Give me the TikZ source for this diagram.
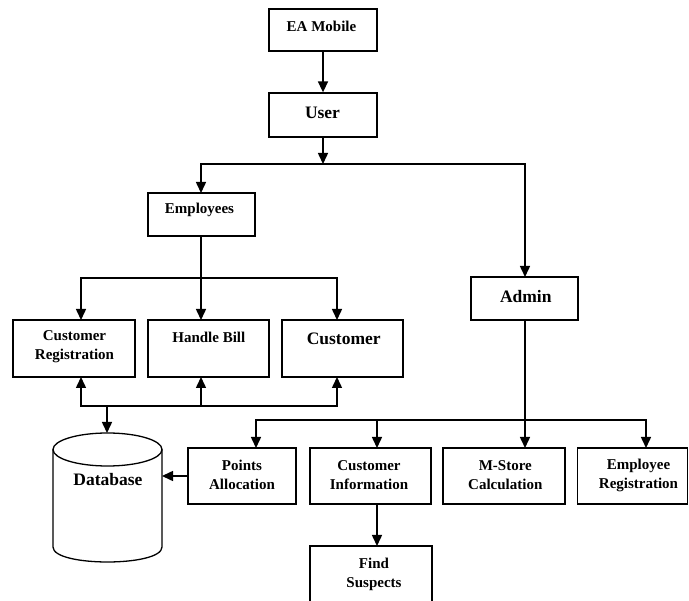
\documentclass[tikz,border=0pt]{standalone}
\usepackage{fontspec}
\setmainfont{Liberation Serif}
\usetikzlibrary{arrows.meta}
\begin{document}
\begin{tikzpicture}[x=1pt,y=-1pt,
  box/.style={draw,line width=1.3pt,inner sep=0pt},
  sm/.style={font=\bfseries\fontsize{15}{19}\selectfont,align=center,inner sep=0pt},
  lg/.style={font=\bfseries\fontsize{17.5}{20}\selectfont,align=center,inner sep=0pt},
  conn/.style={line width=1.5pt},
  arr/.style={conn,-{Triangle[width=10pt,length=11pt]}}]
\useasboundingbox (0,0) rectangle (689,601);
\clip (0,0) rectangle (689,601);
% boxes
\node[box,minimum width=108pt,minimum height=42pt] (ea) at (323,30) {};
\node[box,minimum width=108pt,minimum height=44pt] (user) at (323,115) {};
\node[box,minimum width=107pt,minimum height=43pt] (emp) at (201.5,214.5) {};
\node[box,minimum width=122pt,minimum height=57pt] (cr) at (74,348.5) {};
\node[box,minimum width=121pt,minimum height=57pt] (hb) at (208.5,348.5) {};
\node[box,minimum width=121pt,minimum height=57pt] (cu) at (342.5,348.5) {};
\node[box,minimum width=107pt,minimum height=43pt] (admin) at (524.5,298.5) {};
\node[box,minimum width=108pt,minimum height=56pt] (pa) at (242,476) {};
\node[box,minimum width=121pt,minimum height=56pt] (ci) at (370.5,476) {};
\node[box,minimum width=122pt,minimum height=56pt] (ms) at (504,476) {};
\node[box,minimum width=110pt,minimum height=56pt] (er) at (632.5,476) {};
\node[box,minimum width=122pt,minimum height=70pt] (fs) at (371,581) {};
% texts
\node[sm,anchor=base] (eat) at (321.5,31.5) {EA Mobile};
\node[lg,anchor=base] (usert) at (322.5,119) {User};
\node[sm,anchor=base] (empt) at (199.5,213.5) {Employees};
\node[sm] (crt) at (74.5,347) {Customer\\Registration};
\node[sm,anchor=base] (hbt) at (208.8,343) {Handle Bill};
\node[lg,anchor=base] (cut) at (343.7,345) {Customer};
\node[lg,anchor=base] (admint) at (525.8,303) {Admin};
\node[sm] (pat) at (242,475) {Points\\Allocation};
\node[sm] (cit) at (369,475) {Customer\\Information};
\node[sm] (mst) at (505.3,475) {M-Store\\Calculation};
\node[sm] (ert) at (638.5,475) {Employee\\Registration};
\node[sm] (fst) at (374,574) {Find\\Suspects};
% database cylinder
\draw[line width=1.3pt] (53,449.5) -- (53,547) .. controls (53,567) and (162,567) .. (162,547) -- (162,449.5);
\draw[line width=1.3pt] (107.5,449.5) ellipse [x radius=54.5pt,y radius=16.5pt];
\node[lg,anchor=base] (db) at (108,486) {Database};
\coordinate (dbtop) at (107,433);
\coordinate (dbright) at (162,476);
% junction coordinates
\coordinate (j1) at (323,164);
\coordinate (eT) at (201,193);
\coordinate (aT) at (525,277);
\coordinate (eB) at (201,236);
\coordinate (hbT) at (201,320);
\coordinate (b1) at (201,278);
\coordinate (crT) at (81,320);
\coordinate (cuT) at (337,320);
\coordinate (bb) at (107,406);
\coordinate (crB) at (81,377);
\coordinate (hbB) at (201,377);
\coordinate (cuB) at (337,377);
\coordinate (aB) at (525,320);
\coordinate (msT) at (525,448);
\coordinate (ab) at (525,420);
\coordinate (paT) at (256,448);
\coordinate (ciT) at (377,448);
\coordinate (erT) at (646,448);
\coordinate (ciB) at (377,504);
\coordinate (fsT) at (377,546);
% connectors
\draw[arr] (ea.south) -- (user.north);
\draw[arr] (user.south) -- (j1);
\draw[arr] (j1) -| (eT);
\draw[arr] (j1) -| (aT);
\draw[arr] (eB) -- (hbT);
\draw[arr] (b1) -| (crT);
\draw[arr] (b1) -| (cuT);
\draw[arr] (bb) -| (crB);
\draw[arr] (bb) -| (cuB);
\draw[arr] (bb -| hbB) -- (hbB);
\draw[arr] (bb) -- (dbtop);
\draw[arr] (aB) -- (msT);
\draw[arr] (ab) -| (paT);
\draw[arr] (ab) -| (ciT);
\draw[arr] (ab) -| (erT);
\draw[arr] (ciB) -- (fsT);
\draw[arr] (pa.west) -- (dbright);
\end{tikzpicture}
\end{document}
